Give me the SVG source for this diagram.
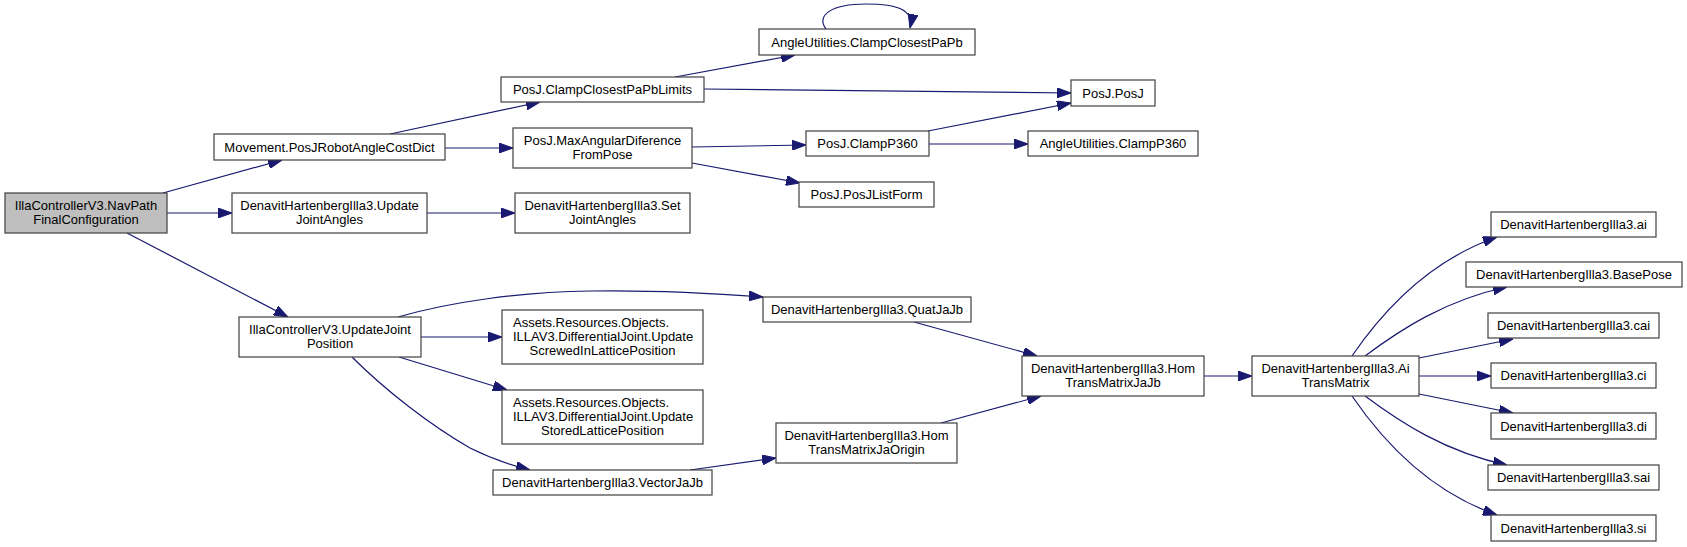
<svg xmlns="http://www.w3.org/2000/svg" width="1687" height="547" viewBox="0 0 1687 547">
<style>
.n rect{fill:#ffffff;stroke:#404040;stroke-width:1.2}
.n.root rect{fill:#bfbfbf}
.n text{font-family:"Liberation Sans",Arial,sans-serif;font-size:13px;fill:#000;text-anchor:middle}
.n text.l{text-anchor:start}
#edges path{fill:none;stroke:#191970;stroke-width:1.2;marker-end:url(#ah)}
</style>
<defs>
<marker id="ah" markerUnits="userSpaceOnUse" viewBox="0 0 14 10" markerWidth="14" markerHeight="10" refX="14" refY="5" orient="auto">
<path d="M0,0 L14,5 L0,10 z" fill="#191970" stroke="#191970" stroke-width="1"/>
</marker>
</defs>
<rect width="1687" height="547" fill="#ffffff"/>
<g id="edges">
<path d="M163,193 L282,160"/>
<path d="M167,213 L232,213"/>
<path d="M127,233 L288,317"/>
<path d="M390,134 L540,102"/>
<path d="M445,148 L513,148"/>
<path d="M675,77 L795,55"/>
<path d="M704,89 L1071,93"/>
<path d="M692,147 L806,145"/>
<path d="M692,163 L800,183"/>
<path d="M928,131 L1071,103"/>
<path d="M929,144 L1028,144"/>
<path d="M427,213 L515,213"/>
<path d="M826,29 C816,16 830,4 866,4 C898,4 914,10 910,28"/>
<path d="M398,317 C450,302 520,292 590,291 C650,290 710,293 763,297"/>
<path d="M421,337 L502,337"/>
<path d="M399,357 L507,390"/>
<path d="M352,357 C385,390 430,425 470,448 C490,458 510,465 530,470"/>
<path d="M914,322 L1037,356"/>
<path d="M941,423 L1041,396"/>
<path d="M690,470 L776,458"/>
<path d="M1204,376 L1252,376"/>
<path d="M1352,356 C1380,315 1425,262 1497,237"/>
<path d="M1365,356 C1400,330 1445,300 1507,287"/>
<path d="M1419,358 L1513,339"/>
<path d="M1419,376 L1491,376"/>
<path d="M1419,394 L1513,413"/>
<path d="M1365,396 C1400,422 1445,452 1507,465"/>
<path d="M1352,396 C1380,437 1425,490 1497,515"/>
</g>
<g id="n_navpath" class="n root"><rect x="5" y="193" width="162" height="40"/><text x="86" y="210">IllaControllerV3.NavPath</text><text x="86" y="224">FinalConfiguration</text></g>
<g id="n_movement" class="n"><rect x="214" y="134" width="231" height="26"/><text x="329.5" y="151.5">Movement.PosJRobotAngleCostDict</text></g>
<g id="n_dh_update" class="n"><rect x="232" y="193" width="195" height="40"/><text x="329.5" y="210">DenavitHartenbergIlla3.Update</text><text x="329.5" y="224">JointAngles</text></g>
<g id="n_update_joint_pos" class="n"><rect x="239" y="317" width="182" height="40"/><text x="330" y="334">IllaControllerV3.UpdateJoint</text><text x="330" y="348">Position</text></g>
<g id="n_clamp_limits" class="n"><rect x="501" y="77" width="203" height="25"/><text x="602.5" y="94">PosJ.ClampClosestPaPbLimits</text></g>
<g id="n_max_ang" class="n"><rect x="513" y="128" width="179" height="40"/><text x="602.5" y="145">PosJ.MaxAngularDiference</text><text x="602.5" y="159">FromPose</text></g>
<g id="n_set_joint" class="n"><rect x="515" y="193" width="175" height="40"/><text x="602.5" y="210">DenavitHartenbergIlla3.Set</text><text x="602.5" y="224">JointAngles</text></g>
<g id="n_screwed" class="n"><rect x="502" y="310" width="201" height="54"/><text class="l" x="513" y="327">Assets.Resources.Objects.</text><text class="l" x="513" y="341">ILLAV3.DifferentialJoint.Update</text><text x="602.5" y="355">ScrewedInLatticePosition</text></g>
<g id="n_stored" class="n"><rect x="502" y="390" width="201" height="54"/><text class="l" x="513" y="407">Assets.Resources.Objects.</text><text class="l" x="513" y="421">ILLAV3.DifferentialJoint.Update</text><text x="602.5" y="435">StoredLatticePosition</text></g>
<g id="n_vector" class="n"><rect x="493" y="470" width="219" height="25"/><text x="602.5" y="487">DenavitHartenbergIlla3.VectorJaJb</text></g>
<g id="n_angle_clamp_papb" class="n"><rect x="759" y="29" width="216" height="26"/><text x="867" y="46.5">AngleUtilities.ClampClosestPaPb</text></g>
<g id="n_posj" class="n"><rect x="1071" y="80" width="84" height="26"/><text x="1113" y="97.5">PosJ.PosJ</text></g>
<g id="n_clamp_p360" class="n"><rect x="806" y="131" width="123" height="25"/><text x="867.5" y="148">PosJ.ClampP360</text></g>
<g id="n_angle_clamp_p360" class="n"><rect x="1028" y="131" width="170" height="25"/><text x="1113" y="148">AngleUtilities.ClampP360</text></g>
<g id="n_list_form" class="n"><rect x="799" y="182" width="135" height="25"/><text x="866.5" y="199">PosJ.PosJListForm</text></g>
<g id="n_quat" class="n"><rect x="763" y="297" width="208" height="25"/><text x="867" y="314">DenavitHartenbergIlla3.QuatJaJb</text></g>
<g id="n_hom_origin" class="n"><rect x="776" y="423" width="181" height="40"/><text x="866.5" y="440">DenavitHartenbergIlla3.Hom</text><text x="866.5" y="454">TransMatrixJaOrigin</text></g>
<g id="n_hom_jajb" class="n"><rect x="1022" y="356" width="182" height="40"/><text x="1113" y="373">DenavitHartenbergIlla3.Hom</text><text x="1113" y="387">TransMatrixJaJb</text></g>
<g id="n_ai_trans" class="n"><rect x="1252" y="356" width="167" height="40"/><text x="1335.5" y="373">DenavitHartenbergIlla3.Ai</text><text x="1335.5" y="387">TransMatrix</text></g>
<g id="n_ai" class="n"><rect x="1491" y="212" width="165" height="25"/><text x="1573.5" y="229">DenavitHartenbergIlla3.ai</text></g>
<g id="n_basepose" class="n"><rect x="1466" y="262" width="216" height="25"/><text x="1574" y="279">DenavitHartenbergIlla3.BasePose</text></g>
<g id="n_cai" class="n"><rect x="1488" y="313" width="171" height="25"/><text x="1573.5" y="330">DenavitHartenbergIlla3.cai</text></g>
<g id="n_ci" class="n"><rect x="1491" y="363" width="165" height="25"/><text x="1573.5" y="380">DenavitHartenbergIlla3.ci</text></g>
<g id="n_di" class="n"><rect x="1491" y="413" width="165" height="26"/><text x="1573.5" y="430.5">DenavitHartenbergIlla3.di</text></g>
<g id="n_sai" class="n"><rect x="1488" y="465" width="171" height="25"/><text x="1573.5" y="482">DenavitHartenbergIlla3.sai</text></g>
<g id="n_si" class="n"><rect x="1491" y="515" width="165" height="26"/><text x="1573.5" y="532.5">DenavitHartenbergIlla3.si</text></g>
</svg>
